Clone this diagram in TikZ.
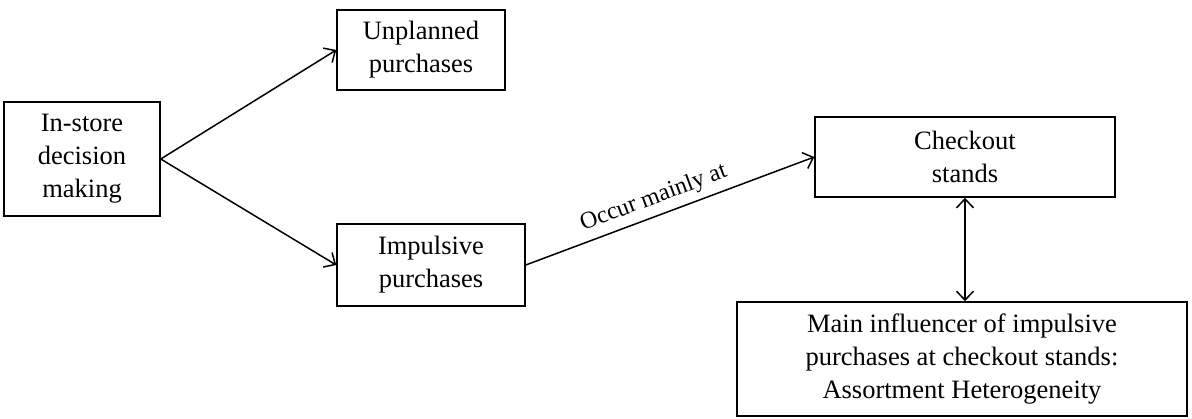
\documentclass[tikz,border=0pt]{standalone}
\usepackage{fontspec}
\setmainfont{Liberation Serif}
\usetikzlibrary{arrows.meta}
\begin{document}
\begin{tikzpicture}[x=1pt,y=-1pt,
  box/.style={draw, line width=1.5pt, inner sep=0pt, align=center,
    font=\fontsize{26.5}{33}\selectfont},
  tip/.style={Straight Barb[length=9pt,width=17pt,line width=1.5pt]},
  link/.style={line width=1.5pt, -{Straight Barb[length=9pt,width=17pt,line width=1.5pt]}},
  both/.style={line width=1.5pt, {Straight Barb[length=9pt,width=17pt,line width=1.5pt]}-{Straight Barb[length=9pt,width=17pt,line width=1.5pt]}},
  lbl/.style={font=\fontsize{24}{28}\selectfont, inner sep=6pt}]
  \useasboundingbox (0,0) rectangle (1192,418);
  \node[box, minimum width=156pt, minimum height=114pt] (instore) at (82,159) {In-store\\decision\\making};
  \node[box, minimum width=168pt, minimum height=80pt] (unplanned) at (421,50) {Unplanned\\purchases};
  \node[box, minimum width=188pt, minimum height=82pt] (impulsive) at (431,265) {Impulsive\\purchases};
  \node[box, minimum width=300pt, minimum height=80pt] (checkout) at (965,157) {Checkout\\stands};
  \node[box, minimum width=450pt, minimum height=114pt] (influencer) at (962,359)
    {Main influencer of impulsive\\purchases at checkout stands:\\Assortment Heterogeneity};
  \draw[link] (instore.east) -- (unplanned.west);
  \draw[link] (instore.east) -- (impulsive.west);
  \draw[link] (impulsive.east) -- node[lbl, sloped, above, pos=0.465] (occur) {Occur mainly at} (checkout.west);
  \draw[both] (checkout.south) -- (checkout.south |- influencer.north);
\end{tikzpicture}
\end{document}
